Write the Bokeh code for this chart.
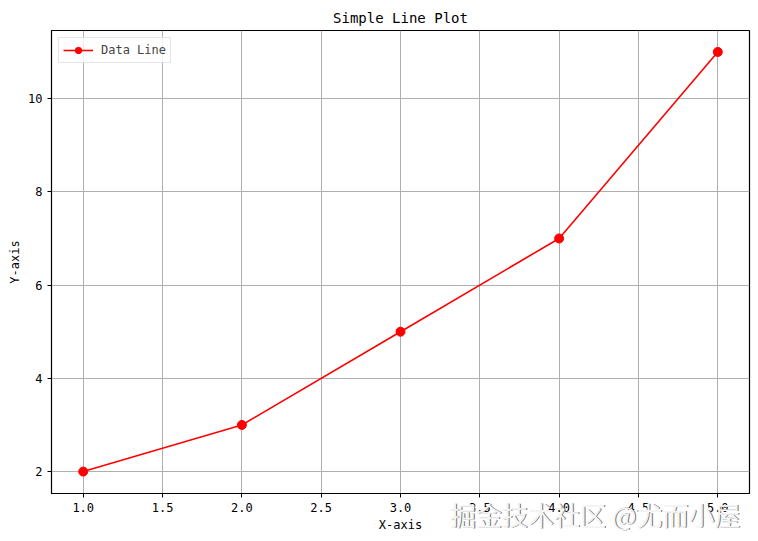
from bokeh.plotting import figure
from bokeh.models import Range1d, FixedTicker, Title, Legend, LegendItem
from bokeh.embed import file_html
from bokeh.resources import INLINE

x_vals = [1, 2, 3, 4, 5]
y_vals = [2, 3, 5, 7, 11]
x_ticks = [1.0, 1.5, 2.0, 2.5, 3.0, 3.5, 4.0, 4.5, 5.0]
y_ticks = [2, 4, 6, 8, 10]
title_text = "Simple Line Plot"
series_name = "Data Line"
x_label = "X-axis"
y_label = "Y-axis"
watermark = "掘金技术社区 @尤而小屋"

MONO = "DejaVu Sans Mono"
WM_SIZE = 26

p = figure(width=758, height=541, output_backend="svg", toolbar_location=None,
           x_range=Range1d(0.8, 5.2), y_range=Range1d(1.53, 11.46),
           min_border_left=51, min_border_right=9, min_border_top=30, min_border_bottom=48)

p.title.text = title_text
p.title.align = "center"
p.title.text_font = MONO
p.title.text_font_size = "14px"
p.title.text_font_style = "normal"
p.title.text_color = "black"

p.outline_line_color = "black"
p.outline_line_width = 1.2
p.outline_line_alpha = 1

for ax in (p.xaxis[0], p.yaxis[0]):
    ax.axis_line_color = "black"
    ax.major_tick_line_color = "black"
    ax.major_tick_out = 4
    ax.major_tick_in = 0
    ax.minor_tick_line_color = None
    ax.major_label_text_font = MONO
    ax.major_label_text_font_size = "12px"
    ax.major_label_text_color = "black"
    ax.axis_label_text_font = MONO
    ax.axis_label_text_font_size = "12px"
    ax.axis_label_text_font_style = "normal"
    ax.axis_label_text_color = "black"

p.xaxis.ticker = FixedTicker(ticks=x_ticks)
p.yaxis.ticker = FixedTicker(ticks=y_ticks)
p.xaxis.major_label_overrides = {t: f"{t:.1f}" for t in x_ticks}
p.yaxis.axis_label = y_label
p.yaxis.axis_label_standoff = 3
p.xaxis.major_label_standoff = 5
p.yaxis.major_label_standoff = 5

p.xgrid.ticker = FixedTicker(ticks=x_ticks)
p.ygrid.ticker = FixedTicker(ticks=y_ticks)
p.grid.grid_line_color = "#b0b0b0"
p.grid.grid_line_width = 1

ln = p.line(x_vals, y_vals, line_color="red", line_width=1.6)
sc = p.scatter(x_vals, y_vals, marker="circle", size=9, fill_color="red", line_color="red")

legend = Legend(items=[LegendItem(label=series_name, renderers=[ln, sc])],
                location="top_left")
legend.label_text_font = MONO
legend.label_text_font_size = "12px"
legend.border_line_color = "#cccccc"
legend.border_line_width = 1
legend.background_fill_alpha = 0.8
legend.glyph_width = 30
legend.glyph_height = 16
legend.padding = 4
legend.margin = 7
legend.label_standoff = 8
legend.spacing = 0
p.add_layout(legend)

# watermark: zero-height titles right under the tick labels (drawn over the axis-label area)
wm_standoff = -(2 + 1.5 * WM_SIZE) - 10
wm_shadow = Title(text=watermark, align="right", vertical_align="middle",
                  text_font="Noto Sans CJK SC", text_font_size=f"{WM_SIZE}px",
                  text_font_style="normal", text_color="#6e6e6e",
                  offset=8, standoff=wm_standoff)
wm = Title(text=watermark, align="right", vertical_align="middle",
           text_font="Noto Sans CJK SC", text_font_size=f"{WM_SIZE}px",
           text_font_style="normal", text_color="#f4f4f4",
           offset=9, standoff=wm_standoff)
p.add_layout(wm_shadow, "below")
p.add_layout(wm, "below")

# x axis label as a centred title under the watermark band
xlab = Title(text=x_label, align="center", vertical_align="middle",
             text_font=MONO, text_font_size="12px", text_font_style="normal",
             text_color="black", standoff=4)
p.add_layout(xlab, "below")

open("out.html", "w").write(file_html(p, INLINE))
